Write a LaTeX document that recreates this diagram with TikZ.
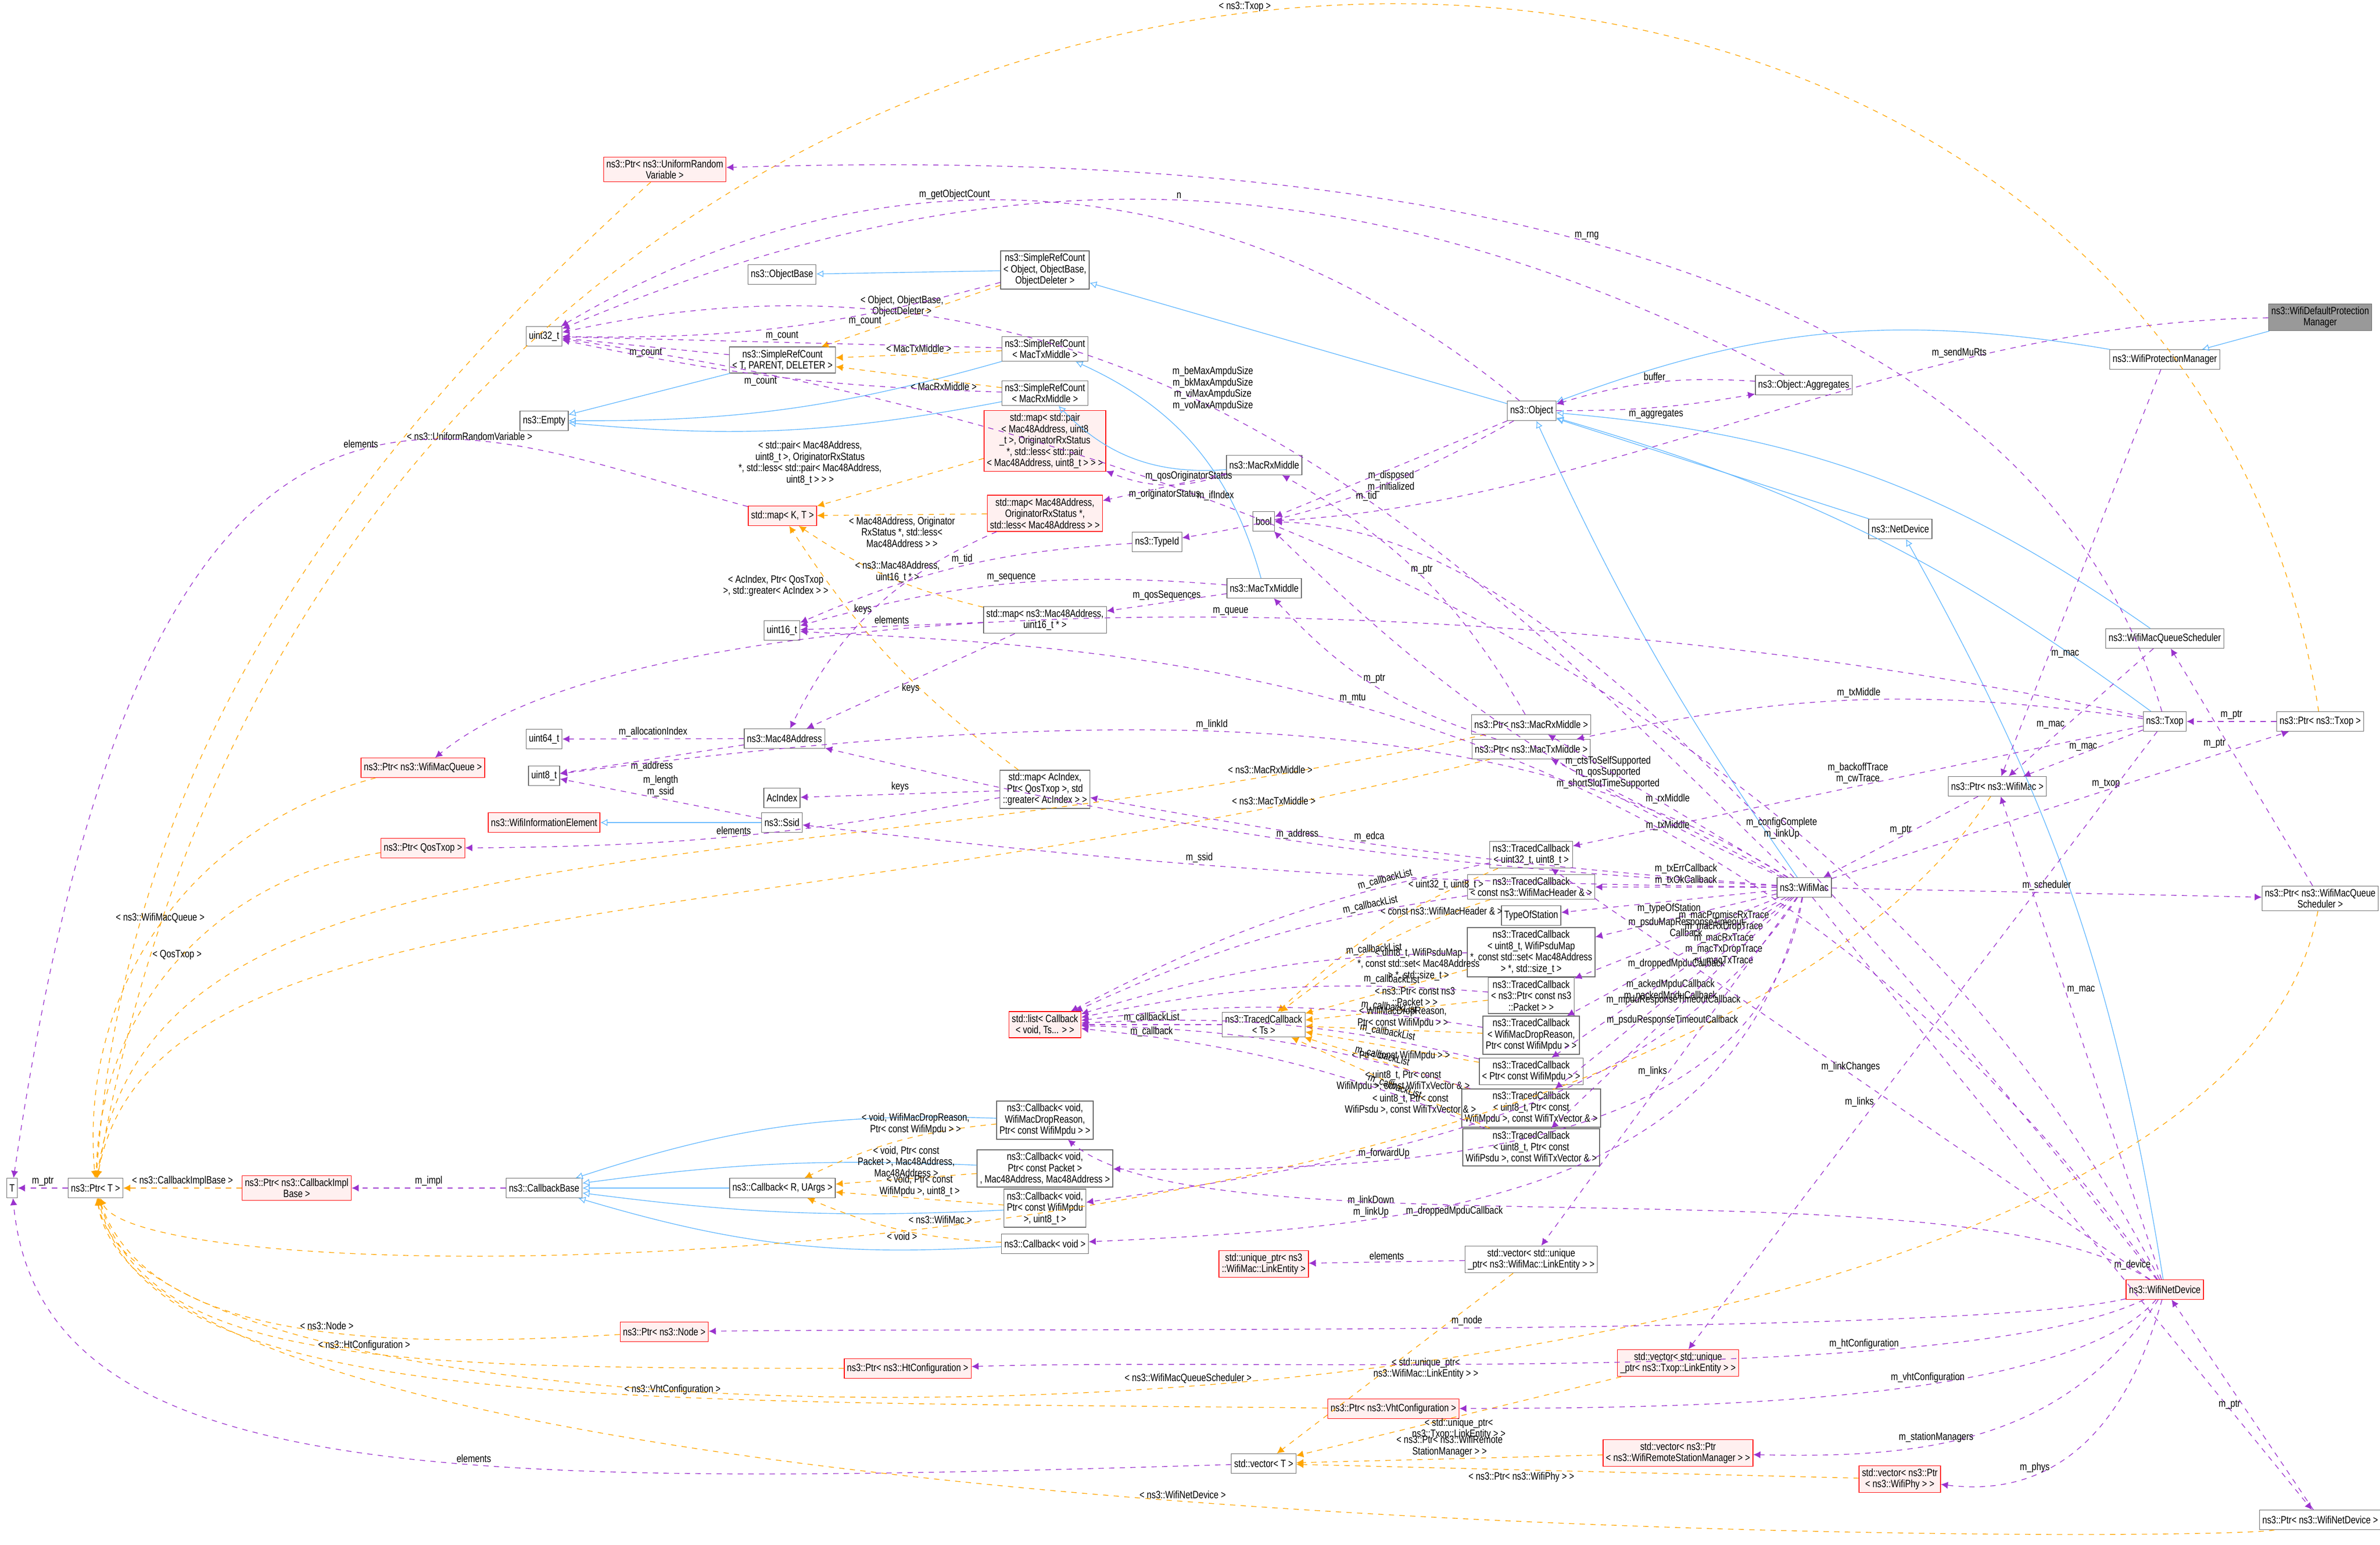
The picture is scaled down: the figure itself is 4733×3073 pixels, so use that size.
\documentclass[tikz,border=0pt]{standalone}
\usepackage{fontspec}
\setmainfont{Liberation Sans}[FakeStretch=0.8]
\usetikzlibrary{arrows.meta}
\definecolor{inhblue}{HTML}{63B8FF}
\definecolor{mempurple}{HTML}{9A32CD}
\definecolor{tplorange}{HTML}{FFA500}

\tikzset{
  cls/.style={draw=black!60,fill=white,font=\fontsize{6}{6.4}\selectfont,align=center,inner sep=1.6pt,minimum height=11pt},
  redcls/.style={cls,draw=red,fill=red!6},
  main/.style={cls,fill=black!40},
  inh/.style={draw=inhblue,-{Latex[length=4pt,width=4pt,open]}},
  mem/.style={draw=mempurple,dashed,-{Latex[length=4pt,width=4pt]}},
  tpl/.style={draw=tplorange,dashed,-{Latex[length=4pt,width=4pt]}},
  lbl/.style={font=\fontsize{6}{6.4}\selectfont,align=center,inner sep=1pt,fill=none}
}

\begin{document}
\begin{tikzpicture}[x=0.01cm,y=-0.01cm]
\useasboundingbox (0,0) rectangle (4733,3073);

\node[main] (wdpm) at (4614,631) {ns3::WifiDefaultProtection\\Manager};
\node[cls] (wpm) at (4305,715) {ns3::WifiProtectionManager};
\node[cls] (obj) at (3046,817) {ns3::Object};
\node[cls] (aggr) at (3587,766) {ns3::Object::Aggregates};
\node[redcls] (purv) at (1322,337) {ns3::Ptr< ns3::UniformRandom\\Variable >};
\node[cls] (srcobj) at (2078,537) {ns3::SimpleRefCount\\< Object, ObjectBase,\\ObjectDeleter >};
\node[cls] (objbase) at (1555,546) {ns3::ObjectBase};
\node[cls] (u32) at (1082,669) {uint32\_t};
\node[cls] (srctpd) at (1556,716) {ns3::SimpleRefCount\\< T, PARENT, DELETER >};
\node[cls] (srctx) at (2078,694) {ns3::SimpleRefCount\\< MacTxMiddle >};
\node[cls] (srcrx) at (2078,782) {ns3::SimpleRefCount\\< MacRxMiddle >};
\node[cls] (empty) at (1082,837) {ns3::Empty};
\node[redcls] (mappair) at (2078,877) {std::map< std::pair\\< Mac48Address, uint8\\\_t >, OriginatorRxStatus\\*, std::less< std::pair\\< Mac48Address, uint8\_t > > >};
\node[redcls] (mapkt) at (1556,1026) {std::map< K, T >};
\node[redcls] (maporig) at (2078,1021) {std::map< Mac48Address,\\OriginatorRxStatus *,\\std::less< Mac48Address > >};
\node[cls] (rxmid) at (2514,925) {ns3::MacRxMiddle};
\node[cls] (bool) at (2513,1037) {bool};
\node[cls] (typeid) at (2301,1078) {ns3::TypeId};
\node[cls] (txmid) at (2514,1170) {ns3::MacTxMiddle};
\node[cls] (u16) at (1555,1254) {uint16\_t};
\node[cls] (mapseq) at (2078,1233) {std::map< ns3::Mac48Address,\\uint16\_t * >};
\node[cls] (netdev) at (3779,1052) {ns3::NetDevice};
\node[cls] (wmqs) at (4305,1270) {ns3::WifiMacQueueScheduler};
\node[cls] (txop) at (4305,1435) {ns3::Txop};
\node[cls] (ptxop) at (4614,1435) {ns3::Ptr< ns3::Txop >};
\node[cls] (pmac) at (3972,1564) {ns3::Ptr< ns3::WifiMac >};
\node[cls] (prx) at (3045,1441) {ns3::Ptr< ns3::MacRxMiddle >};
\node[cls] (ptx) at (3045,1490) {ns3::Ptr< ns3::MacTxMiddle >};
\node[cls] (mac48) at (1560,1469) {ns3::Mac48Address};
\node[cls] (u64) at (1082,1470) {uint64\_t};
\node[cls] (u8) at (1082,1543) {uint8\_t};
\node[redcls] (pqueue) at (841,1527) {ns3::Ptr< ns3::WifiMacQueue >};
\node[cls] (mapac) at (2078,1570) {std::map< AcIndex,\\Ptr< QosTxop >, std\\::greater< AcIndex > >};
\node[cls] (acidx) at (1555,1587) {AcIndex};
\node[cls] (ssid) at (1555,1636) {ns3::Ssid};
\node[redcls] (wie) at (1082,1636) {ns3::WifiInformationElement};
\node[redcls] (pqos) at (841,1687) {ns3::Ptr< QosTxop >};
\node[cls] (tcu32) at (3045,1700) {ns3::TracedCallback\\< uint32\_t, uint8\_t >};
\node[cls] (tchdr) at (3045,1764) {ns3::TracedCallback\\< const ns3::WifiMacHeader \& >};
\node[cls] (tos) at (3045,1821) {TypeOfStation};
\node[cls] (wmac) at (3588,1765) {ns3::WifiMac};
\node[cls] (pwmqs) at (4614,1787) {ns3::Ptr< ns3::WifiMacQueue\\Scheduler >};
\node[cls] (tcpsdu) at (3045,1894) {ns3::TracedCallback\\< uint8\_t, WifiPsduMap\\*, const std::set< Mac48Address\\> *, std::size\_t >};
\node[cls] (tcpkt) at (3045,1980) {ns3::TracedCallback\\< ns3::Ptr< const ns3\\::Packet > >};
\node[redcls] (cblist) at (2078,2038) {std::list< Callback\\< void, Ts... > >};
\node[cls] (tcts) at (2513,2038) {ns3::TracedCallback\\< Ts >};
\node[cls] (tcdrop) at (3045,2059) {ns3::TracedCallback\\< WifiMacDropReason,\\Ptr< const WifiMpdu > >};
\node[cls] (tcmpdu) at (3045,2131) {ns3::TracedCallback\\< Ptr< const WifiMpdu > >};
\node[cls] (tcmpdutx) at (3045,2204) {ns3::TracedCallback\\< uint8\_t, Ptr< const\\WifiMpdu >, const WifiTxVector \& >};
\node[cls] (tcpsdutx) at (3045,2282) {ns3::TracedCallback\\< uint8\_t, Ptr< const\\WifiPsdu >, const WifiTxVector \& >};
\node[cls] (cbdrop) at (2078,2228) {ns3::Callback< void,\\WifiMacDropReason,\\Ptr< const WifiMpdu > >};
\node[cls] (cbpkt) at (2078,2324) {ns3::Callback< void,\\Ptr< const Packet >\\, Mac48Address, Mac48Address >};
\node[cls] (cbmpdu) at (2078,2403) {ns3::Callback< void,\\Ptr< const WifiMpdu\\>, uint8\_t >};
\node[cls] (cbvoid) at (2078,2474) {ns3::Callback< void >};
\node[cls] (cbru) at (1556,2363) {ns3::Callback< R, UArgs >};
\node[cls] (cbbase) at (1082,2363) {ns3::CallbackBase};
\node[redcls] (pcib) at (590,2363) {ns3::Ptr< ns3::CallbackImpl\\Base >};
\node[cls] (ptrt) at (190,2363) {ns3::Ptr< T >};
\node[cls] (tt) at (24,2363) {T};
\node[redcls] (uptr) at (2513,2514) {std::unique\_ptr< ns3\\::WifiMac::LinkEntity >};
\node[cls] (vecle) at (3045,2505) {std::vector< std::unique\\\_ptr< ns3::WifiMac::LinkEntity > >};
\node[redcls] (pnode) at (1321,2649) {ns3::Ptr< ns3::Node >};
\node[redcls] (wnd) at (4305,2565) {ns3::WifiNetDevice};
\node[redcls] (vectxle) at (3337,2711) {std::vector< std::unique\\\_ptr< ns3::Txop::LinkEntity > >};
\node[redcls] (pht) at (1805,2722) {ns3::Ptr< ns3::HtConfiguration >};
\node[redcls] (pvht) at (2771,2802) {ns3::Ptr< ns3::VhtConfiguration >};
\node[redcls] (vecrsm) at (3337,2890) {std::vector< ns3::Ptr\\< ns3::WifiRemoteStationManager > >};
\node[cls] (vect) at (2513,2911) {std::vector< T >};
\node[redcls] (vecphy) at (3778,2942) {std::vector< ns3::Ptr\\< ns3::WifiPhy > >};
\node[cls] (pwnd) at (4614,3023) {ns3::Ptr< ns3::WifiNetDevice >};

% inheritance
\draw[inh] (wdpm) -- (wpm);
\draw[inh] (wpm) to[bend right=15] (obj);
\draw[inh] (obj) -- (srcobj);
\draw[inh] (srcobj) -- (objbase);
\draw[inh] (srctpd) -- (empty);
\draw[inh] (srctx) to[bend left=8] (empty);
\draw[inh] (srcrx) to[bend left=8] (empty);
\draw[inh] (txmid) to[bend right=25] (srctx);
\draw[inh] (rxmid) to[bend left=25] (srcrx);
\draw[inh] (netdev) -- (obj);
\draw[inh] (wmqs) to[bend right=15] (obj);
\draw[inh] (txop) to[bend right=10] (obj);
\draw[inh] (wmac) to[bend left=5] (obj);
\draw[inh] (wnd) to[bend right=10] (netdev);
\draw[inh] (ssid) -- (wie);
\draw[inh] (cbru) -- (cbbase);
\draw[inh] (cbdrop) to[bend right=10] (cbbase);
\draw[inh] (cbpkt) to[bend right=5] (cbbase);
\draw[inh] (cbmpdu) to[bend left=5] (cbbase);
\draw[inh] (cbvoid) to[bend left=10] (cbbase);

% templates
\draw[tpl] (srcobj) -- node[lbl,pos=0.55,above]{< Object, ObjectBase,\\ObjectDeleter >} (srctpd);
\draw[tpl] (srctx) -- node[lbl,above]{< MacTxMiddle >} (srctpd);
\draw[tpl] (srcrx) -- node[lbl,pos=0.35,below]{< MacRxMiddle >} (srctpd);
\draw[tpl] (mappair) -- node[lbl,pos=0.6,above left]{< std::pair< Mac48Address,\\uint8\_t >, OriginatorRxStatus\\*, std::less< std::pair< Mac48Address,\\uint8\_t > > >} (mapkt);
\draw[tpl] (maporig) -- node[lbl,below]{< Mac48Address, Originator\\RxStatus *, std::less<\\Mac48Address > >} (mapkt);
\draw[tpl] (mapseq) to[bend left=10] node[lbl,pos=0.7,below right]{< ns3::Mac48Address,\\uint16\_t * >} (mapkt);
\draw[tpl] (mapac) to[bend left=10] node[lbl,pos=0.8,left]{< AcIndex, Ptr< QosTxop\\>, std::greater< AcIndex > >} (mapkt);
\draw[tpl] (pcib) -- node[lbl,above]{< ns3::CallbackImplBase >} (ptrt);
\draw[tpl] (purv) .. controls (700,900) and (250,1500) .. node[lbl,pos=0.3,right]{< ns3::UniformRandomVariable >} (ptrt);
\draw[tpl] (ptxop) .. controls (4300,-620) and (700,-560) .. node[lbl,pos=0.5,above]{< ns3::Txop >} (ptrt);
\draw[tpl] (pqueue) to[bend right=40] node[lbl,above]{< ns3::WifiMacQueue >} (ptrt);
\draw[tpl] (pqos) to[bend right=40] node[lbl,above]{< QosTxop >} (ptrt);
\draw[tpl] (prx) .. controls (1500,1780) and (300,1600) .. node[lbl,pos=0.1,above]{< ns3::MacRxMiddle >} (ptrt);
\draw[tpl] (ptx) .. controls (1500,1870) and (300,1750) .. node[lbl,pos=0.1,above]{< ns3::MacTxMiddle >} (ptrt);
\draw[tpl] (pmac) .. controls (3300,2580) and (300,2600) .. node[lbl,pos=0.5,above]{< ns3::WifiMac >} (ptrt);
\draw[tpl] (pnode) .. controls (800,2680) and (300,2680) .. node[lbl,pos=0.45,above]{< ns3::Node >} (ptrt);
\draw[tpl] (pht) .. controls (800,2720) and (300,2720) .. node[lbl,pos=0.45,above]{< ns3::HtConfiguration >} (ptrt);
\draw[tpl] (pvht) .. controls (1200,2785) and (300,2810) .. node[lbl,pos=0.35,above]{< ns3::VhtConfiguration >} (ptrt);
\draw[tpl] (pwmqs) .. controls (4400,2950) and (300,3000) .. node[lbl,pos=0.5,above]{< ns3::WifiMacQueueScheduler >} (ptrt);
\draw[tpl] (pwnd) .. controls (4400,3070) and (300,3080) .. node[lbl,pos=0.5,above]{< ns3::WifiNetDevice >} (ptrt);
\draw[tpl] (cbdrop) to[bend right=10] node[lbl,pos=0.4,above]{< void, WifiMacDropReason,\\Ptr< const WifiMpdu > >} (cbru);
\draw[tpl] (cbpkt) -- node[lbl,above]{< void, Ptr< const\\Packet >, Mac48Address,\\Mac48Address >} (cbru);
\draw[tpl] (cbmpdu) -- node[lbl,above]{< void, Ptr< const\\WifiMpdu >, uint8\_t >} (cbru);
\draw[tpl] (cbvoid) to[bend left=10] node[lbl,below]{< void >} (cbru);
\draw[tpl] (tcu32) to[bend right=10] node[lbl,pos=0.2,above]{< uint32\_t, uint8\_t >} (tcts);
\draw[tpl] (tchdr) to[bend right=10] node[lbl,pos=0.2,above]{< const ns3::WifiMacHeader \& >} (tcts);
\draw[tpl] (tcpsdu) -- node[lbl,pos=0.3,above]{< uint8\_t, WifiPsduMap\\*, const std::set< Mac48Address\\> *, std::size\_t >} (tcts);
\draw[tpl] (tcpkt) -- node[lbl,pos=0.4,above]{< ns3::Ptr< const ns3\\::Packet > >} (tcts);
\draw[tpl] (tcdrop) -- node[lbl,pos=0.45,above]{< WifiMacDropReason,\\Ptr< const WifiMpdu > >} (tcts);
\draw[tpl] (tcmpdu) -- node[lbl,pos=0.45,below]{< Ptr< const WifiMpdu > >} (tcts);
\draw[tpl] (tcmpdutx) -- node[lbl,pos=0.4,below]{< uint8\_t, Ptr< const\\WifiMpdu >, const WifiTxVector \& >} (tcts);
\draw[tpl] (tcpsdutx) -- node[lbl,pos=0.4,below]{< uint8\_t, Ptr< const\\WifiPsdu >, const WifiTxVector \& >} (tcts);
\draw[tpl] (vecle) -- node[lbl,pos=0.6,above right]{< std::unique\_ptr<\\ns3::WifiMac::LinkEntity > >} (vect);
\draw[tpl] (vectxle) -- node[lbl,pos=0.5,below]{< std::unique\_ptr<\\ns3::Txop::LinkEntity > >} (vect);
\draw[tpl] (vecrsm) -- node[lbl,pos=0.5,above]{< ns3::Ptr< ns3::WifiRemote\\StationManager > >} (vect);
\draw[tpl] (vecphy) -- node[lbl,pos=0.6,below]{< ns3::Ptr< ns3::WifiPhy > >} (vect);

% members
\draw[mem] (ptrt) -- node[lbl,above]{m\_ptr} (tt);
\draw[mem] (cbbase) -- node[lbl,above]{m\_impl} (pcib);
\draw[mem] (mapkt) .. controls (900,850) and (300,500) .. node[lbl,pos=0.45,above]{elements} (tt);
\draw[mem] (vect) .. controls (900,2960) and (80,2960) .. node[lbl,pos=0.4,above]{elements} (tt);
\draw[mem] (srctpd) -- node[lbl,below]{m\_count} (u32);
\draw[mem] (srcobj) to[bend left=8] node[lbl,pos=0.3,below]{m\_count} (u32);
\draw[mem] (srctx) -- node[lbl,above]{m\_count} (u32);
\draw[mem] (srcrx) to[bend left=5] node[lbl,pos=0.55,below]{m\_count} (u32);
\draw[mem] (obj) to[bend right=35] node[lbl,pos=0.6,above]{m\_getObjectCount} (u32);
\draw[mem] (aggr) to[bend right=25] node[lbl,above]{n} (u32);
\draw[mem] (wnd) .. controls (3600,1200) and (2000,800) .. node[lbl,pos=0.6,above]{m\_ifIndex} (u32);
\draw[mem] (wmac) .. controls (3000,1200) and (2300,400) .. node[lbl,pos=0.6,right]{m\_beMaxAmpduSize\\m\_bkMaxAmpduSize\\m\_viMaxAmpduSize\\m\_voMaxAmpduSize} (u32);
\draw[mem] (aggr) to[bend right=10] node[lbl,above]{buffer} (obj);
\draw[mem] (obj) to[bend right=5] node[lbl,below]{m\_aggregates} (aggr);
\draw[mem] (obj) -- node[lbl,pos=0.5,below]{m\_disposed\\m\_initialized} (bool);
\draw[mem] (obj) to[bend left=10] node[lbl,pos=0.5,right]{m\_tid} (typeid);
\draw[mem] (typeid) to[bend right=10] node[lbl,above]{m\_tid} (u16);
\draw[mem] (wmac) to[bend left=10] node[lbl,pos=0.3,above]{m\_ctsToSelfSupported\\m\_qosSupported\\m\_shortSlotTimeSupported} (bool);
\draw[mem] (wnd) .. controls (3300,1300) and (2900,1050) .. node[lbl,pos=0.3,above]{m\_configComplete\\m\_linkUp} (bool);
\draw[mem] (wdpm) .. controls (3800,640) and (3200,1000) .. node[lbl,pos=0.3,above]{m\_sendMuRts} (bool);
\draw[mem] (txop) .. controls (4000,400) and (2500,300) .. node[lbl,pos=0.5,above]{m\_rng} (purv);
\draw[mem] (rxmid) to[bend left=20] node[lbl,pos=0.3,above]{m\_qosOriginatorStatus} (mappair);
\draw[mem] (rxmid) -- node[lbl,below]{m\_originatorStatus} (maporig);
\draw[mem] (txmid) to[bend right=10] node[lbl,above]{m\_sequence} (u16);
\draw[mem] (txmid) -- node[lbl,above]{m\_qosSequences} (mapseq);
\draw[mem] (mapseq) -- node[lbl,pos=0.5,below]{keys} (mac48);
\draw[mem] (mapseq) -- node[lbl,above]{elements} (u16);
\draw[mem] (maporig) to[bend right=20] node[lbl,pos=0.5,left]{keys} (mac48);
\draw[mem] (mapac) -- node[lbl,above]{keys} (acidx);
\draw[mem] (mapac) to[bend left=5] node[lbl,above]{elements} (pqos);
\draw[mem] (mac48) -- node[lbl,above]{m\_allocationIndex} (u64);
\draw[mem] (mac48) -- node[lbl,below]{m\_address} (u8);
\draw[mem] (ssid) -- node[lbl,above]{m\_length\\m\_ssid} (u8);
\draw[mem] (txop) .. controls (3000,1150) and (1300,1150) .. node[lbl,pos=0.45,above]{m\_queue} (pqueue);
\draw[mem] (wnd) .. controls (3400,1300) and (2200,1290) .. node[lbl,pos=0.55,above]{m\_mtu} (u16);
\draw[mem] (wmac) .. controls (3000,1400) and (2200,1400) .. node[lbl,pos=0.55,above]{m\_linkId} (u8);
\draw[mem] (wmac) to[bend left=5] node[lbl,pos=0.5,above]{m\_address} (mac48);
\draw[mem] (wmac) to[bend left=3] node[lbl,pos=0.6,above]{m\_edca} (mapac);
\draw[mem] (wmac) to[bend left=3] node[lbl,pos=0.6,above]{m\_ssid} (ssid);
\draw[mem] (wmac) -- node[lbl,pos=0.5,above]{m\_rxMiddle} (prx);
\draw[mem] (wmac) -- node[lbl,pos=0.5,below]{m\_txMiddle} (ptx);
\draw[mem] (txop) to[bend right=10] node[lbl,pos=0.5,above]{m\_txMiddle} (ptx);
\draw[mem] (prx) to[bend right=15] node[lbl,pos=0.5,above]{m\_ptr} (rxmid);
\draw[mem] (ptx) to[bend left=15] node[lbl,pos=0.5,above]{m\_ptr} (txmid);
\draw[mem] (txop) -- node[lbl,pos=0.5,above]{m\_backoffTrace\\m\_cwTrace} (tcu32);
\draw[mem] (wmac) -- node[lbl,pos=0.5,above]{m\_txErrCallback\\m\_txOkCallback} (tchdr);
\draw[mem] (wmac) -- node[lbl,pos=0.5,below]{m\_typeOfStation} (tos);
\draw[mem] (wmac) -- node[lbl,pos=0.5,below]{m\_psduMapResponseTimeout\\Callback} (tcpsdu);
\draw[mem] (wmac) -- node[lbl,pos=0.5,right]{m\_macPromiscRxTrace\\m\_macRxDropTrace\\m\_macRxTrace\\m\_macTxDropTrace\\m\_macTxTrace} (tcpkt);
\draw[mem] (wmac) -- node[lbl,pos=0.5,below]{m\_droppedMpduCallback} (tcdrop);
\draw[mem] (wmac) -- node[lbl,pos=0.5,below]{m\_ackedMpduCallback\\m\_nackedMpduCallback} (tcmpdu);
\draw[mem] (wmac) -- node[lbl,pos=0.5,below]{m\_mpduResponseTimeoutCallback} (tcmpdutx);
\draw[mem] (wmac) -- node[lbl,pos=0.5,below]{m\_psduResponseTimeoutCallback} (tcpsdutx);
\draw[mem] (wmac) .. controls (3500,2300) and (2800,2330) .. node[lbl,pos=0.7,above]{m\_forwardUp} (cbpkt);
\draw[mem] (wmac) .. controls (3450,2400) and (2800,2440) .. node[lbl,pos=0.7,above]{m\_linkDown\\m\_linkUp} (cbvoid);
\draw[mem] (wmac) -- node[lbl,pos=0.5,left]{m\_links} (vecle);
\draw[mem] (wmac) -- node[lbl,pos=0.5,above]{m\_scheduler} (pwmqs);
\draw[mem] (wmac) -- node[lbl,pos=0.6,right]{m\_device} (pwnd);
\draw[mem] (wmac) -- node[lbl,pos=0.6,above]{m\_txop} (ptxop);
\draw[mem] (pmac) -- node[lbl,pos=0.5,above]{m\_ptr} (wmac);
\draw[mem] (txop) -- node[lbl,pos=0.5,above]{m\_mac} (pmac);
\draw[mem] (wpm) -- node[lbl,pos=0.7,right]{m\_mac} (pmac);
\draw[mem] (wmqs) -- node[lbl,pos=0.6,left]{m\_mac} (pmac);
\draw[mem] (wnd) -- node[lbl,pos=0.6,right]{m\_mac} (pmac);
\draw[mem] (ptxop) -- node[lbl,above]{m\_ptr} (txop);
\draw[mem] (pwmqs) -- node[lbl,pos=0.6,left]{m\_ptr} (wmqs);
\draw[mem] (pwnd) -- node[lbl,pos=0.5,left]{m\_ptr} (wnd);
\draw[mem] (txop) -- node[lbl,pos=0.6,left]{m\_links} (vectxle);
\draw[mem] (wnd) -- node[lbl,pos=0.5,above]{m\_linkChanges} (tcu32);
\draw[mem] (wnd) .. controls (3900,2300) and (2400,2500) .. node[lbl,pos=0.6,below]{m\_droppedMpduCallback} (cbdrop);
\draw[mem] (wnd) .. controls (3900,2660) and (2000,2640) .. node[lbl,pos=0.5,above]{m\_node} (pnode);
\draw[mem] (wnd) .. controls (3900,2760) and (2500,2700) .. node[lbl,pos=0.3,above]{m\_htConfiguration} (pht);
\draw[mem] (wnd) .. controls (4100,2800) and (3300,2800) .. node[lbl,pos=0.4,above]{m\_vhtConfiguration} (pvht);
\draw[mem] (wnd) .. controls (4100,2880) and (3800,2900) .. node[lbl,pos=0.6,above]{m\_stationManagers} (vecrsm);
\draw[mem] (wnd) .. controls (4200,2940) and (4000,2970) .. node[lbl,pos=0.6,above]{m\_phys} (vecphy);
\draw[mem] (vecle) -- node[lbl,above]{elements} (uptr);
\draw[mem] (wmac) .. controls (3300,2200) and (2800,2300) .. (cbmpdu);
\foreach \tc in {tcu32,tchdr,tcpsdu,tcpkt,tcdrop,tcmpdu,tcmpdutx,tcpsdutx}
  \draw[mem] (\tc) to[bend right=8] node[lbl,pos=0.22,above,sloped]{m\_callbackList} (cblist);
\draw[mem] (tcts) -- node[lbl,above]{m\_callbackList} node[lbl,below]{m\_callback} (cblist);
\end{tikzpicture}
\end{document}
